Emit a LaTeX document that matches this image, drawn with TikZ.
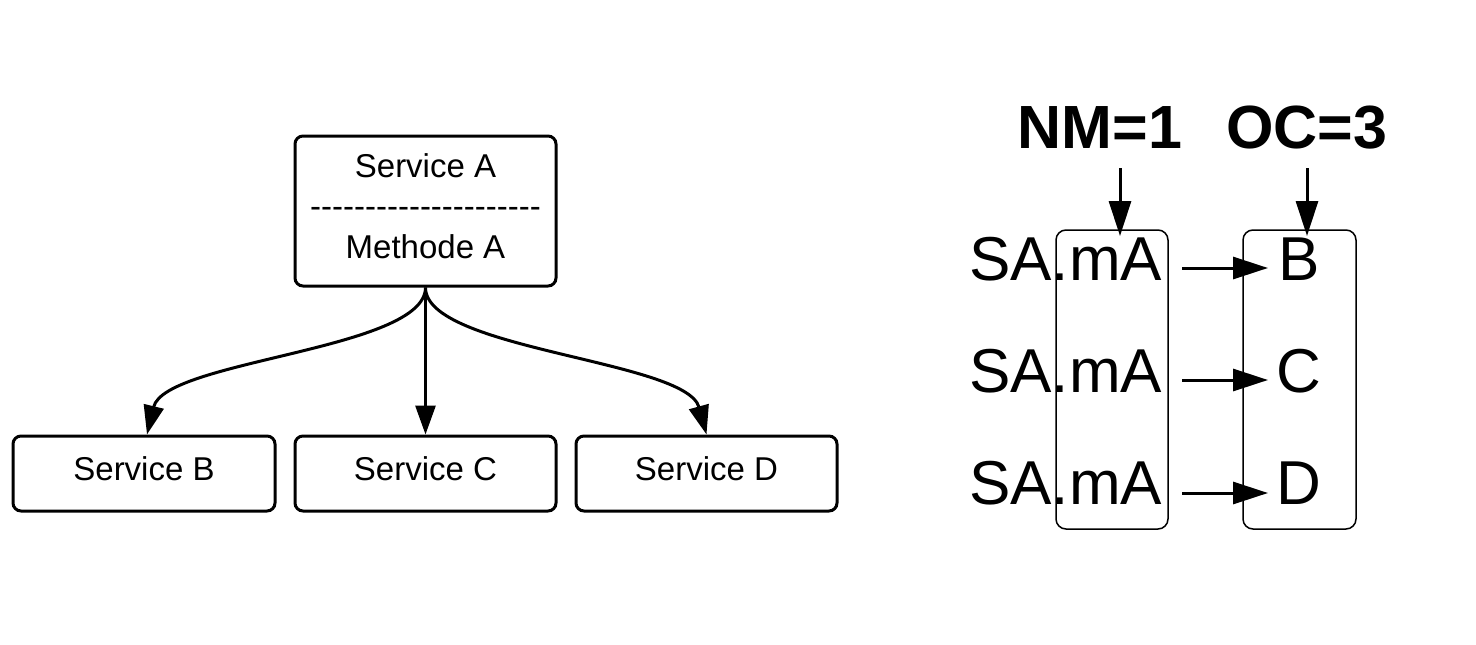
\documentclass[tikz,border=0pt]{standalone}
\usepackage{fontspec}
\setmainfont{Liberation Sans}
\usetikzlibrary{arrows.meta}
\newcommand{\hyph}{\mbox{-}}
\begin{document}
\begin{tikzpicture}[x=1pt,y=-1pt,
  svc/.style={draw,line width=3pt,rounded corners=8pt,inner sep=0pt},
  lbl/.style={inner sep=0pt,anchor=base,font=\fontsize{33}{40}\selectfont},
  big/.style={inner sep=0pt,anchor=base,font=\fontsize{62}{70}\selectfont},
  bigb/.style={inner sep=0pt,anchor=base,font=\fontsize{61}{70}\selectfont\bfseries},
  col/.style={draw,line width=1.5pt,rounded corners=10pt,inner sep=0pt},
  arrL/.style={line width=3pt,-{Triangle[length=29pt,width=20pt]}},
  arrR/.style={line width=3pt,-{Triangle[length=35pt,width=22pt]}}]
\useasboundingbox (0,0) rectangle (1476,645);
% left diagram
\node[svc,minimum width=261pt,minimum height=150pt] (sa) at (425.5,211) {};
\node[lbl] (sat) at (425.5,177) {Service A};
\node[lbl] (sad) at (425.5,217) {\hyph\hyph\hyph\hyph\hyph\hyph\hyph\hyph\hyph\hyph\hyph\hyph\hyph\hyph\hyph\hyph\hyph\hyph\hyph\hyph\hyph};
\node[lbl] (sam) at (425.5,258) {Methode A};
\node[svc,minimum width=262pt,minimum height=75pt] (sb) at (144,473.5) {};
\node[svc,minimum width=261pt,minimum height=75pt] (sc) at (425.5,473.5) {};
\node[svc,minimum width=261pt,minimum height=75pt] (sd) at (706.5,473.5) {};
\node[lbl] (sbt) at (144,480) {Service B};
\node[lbl] (sct) at (425.5,480) {Service C};
\node[lbl] (sdt) at (706.5,480) {Service D};
\draw[arrL] (sa.south) .. controls (425.5,350) and (165,360) .. ([xshift=3pt]sb.north);
\draw[arrL] (sa.south) -- (sc.north);
\draw[arrL] (sa.south) .. controls (425.5,350) and (686,360) .. (sd.north);
% right diagram
\node[bigb] (nm) at (1100,148) {NM=1};
\node[bigb] (oc) at (1307,148) {OC=3};
\node[col,minimum width=112pt,minimum height=299pt] (m1) at (1112,379.5) {};
\node[col,minimum width=113pt,minimum height=299pt] (m2) at (1299.5,379.5) {};
\node[big,anchor=base west] (r1) at (969,280) {SA.mA};
\node[big,anchor=base west] (r2) at (969,392) {SA.mA};
\node[big,anchor=base west] (r3) at (969,504) {SA.mA};
\node[big] (lb) at (1299,280) {B};
\node[big] (lc) at (1299,392) {C};
\node[big] (ld) at (1299,504) {D};
\coordinate (n1) at (1120,168);
\coordinate (n2) at (1120,236);
\coordinate (o1) at (1307,168);
\coordinate (o2) at (1307,236);
\draw[arrR] (n1) -- (n2);
\draw[arrR] (o1) -- (o2);
\coordinate (h1) at (1182,268);
\coordinate (h2) at (1182,380);
\coordinate (h3) at (1182,493);
\coordinate (e1) at (1268,268);
\coordinate (e2) at (1268,380);
\coordinate (e3) at (1268,493);
\draw[arrR] (h1) -- (e1);
\draw[arrR] (h2) -- (e2);
\draw[arrR] (h3) -- (e3);
\end{tikzpicture}
\end{document}
